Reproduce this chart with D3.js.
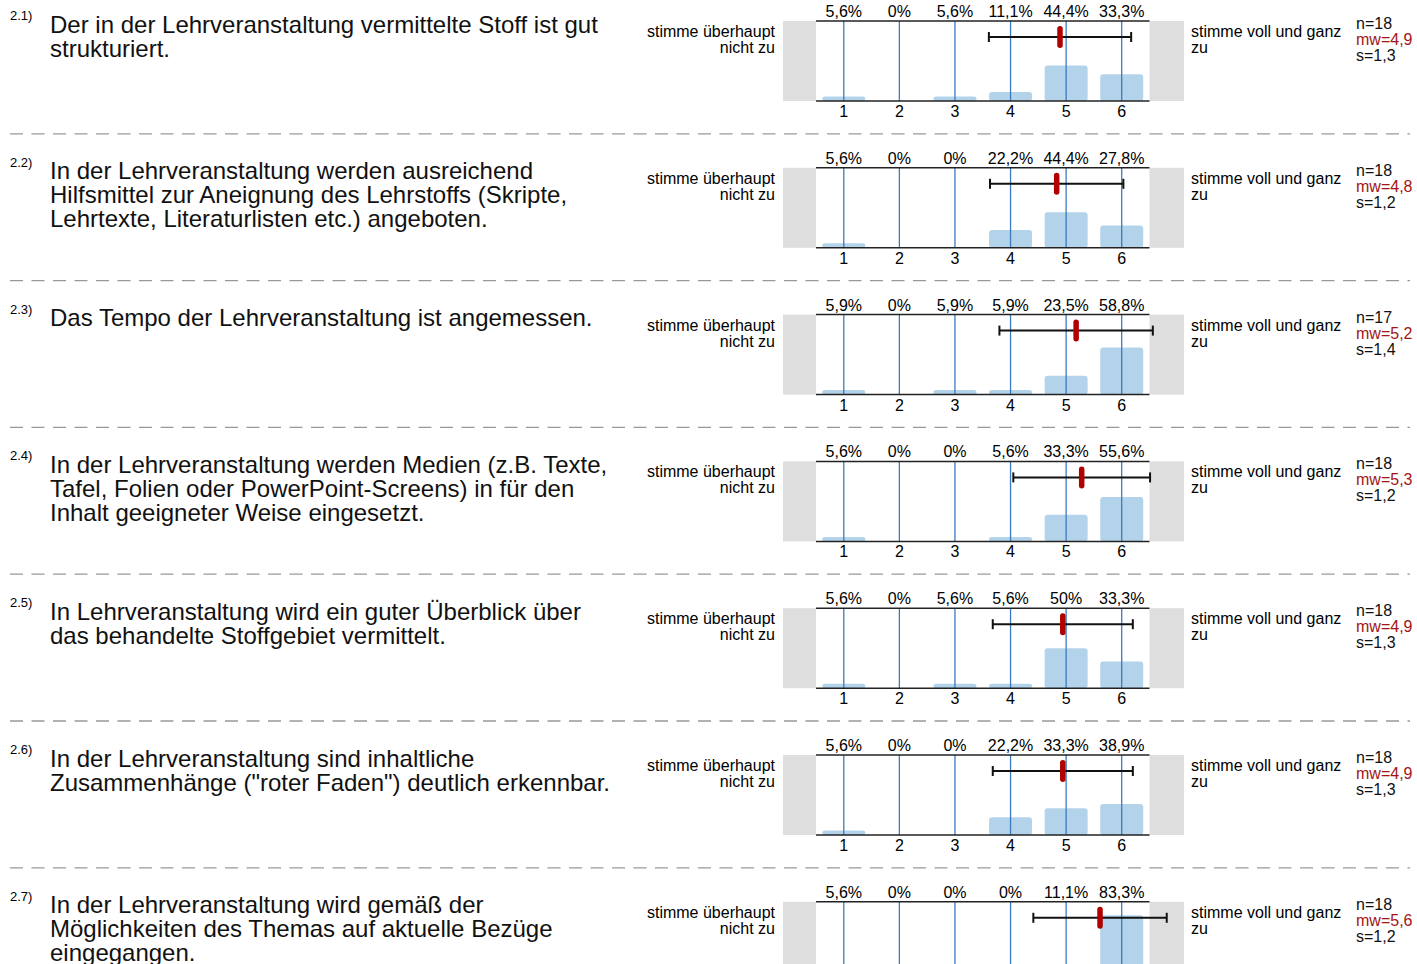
<!DOCTYPE html>
<html>
<head>
<meta charset="utf-8">
<script src="https://cdn.jsdelivr.net/npm/d3@7"></script>
<style>
  body { margin: 0; background: #fff; }
  text { font-family: "Liberation Sans", Arial, sans-serif; }
</style>
</head>
<body>
<svg id="chart" width="1417" height="964"></svg>
<script>
// Question numbers and wrapped question text
const numbers = ['2.1)', '2.2)', '2.3)', '2.4)', '2.5)', '2.6)', '2.7)'];
const questions = [
  ['Der in der Lehrveranstaltung vermittelte Stoff ist gut', 'strukturiert.'],
  ['In der Lehrveranstaltung werden ausreichend', 'Hilfsmittel zur Aneignung des Lehrstoffs (Skripte,', 'Lehrtexte, Literaturlisten etc.) angeboten.'],
  ['Das Tempo der Lehrveranstaltung ist angemessen.'],
  ['In der Lehrveranstaltung werden Medien (z.B. Texte,', 'Tafel, Folien oder PowerPoint-Screens) in für den', 'Inhalt geeigneter Weise eingesetzt.'],
  ['In Lehrveranstaltung wird ein guter Überblick über', 'das behandelte Stoffgebiet vermittelt.'],
  ['In der Lehrveranstaltung sind inhaltliche', 'Zusammenhänge ("roter Faden") deutlich erkennbar.'],
  ['In der Lehrveranstaltung wird gemäß der', 'Möglichkeiten des Themas auf aktuelle Bezüge', 'eingegangen.']
];

// Answer scale 1..6
const categories = [1, 2, 3, 4, 5, 6];

// Percent per answer, one row per question
const percents = [
  [5.6, 0, 5.6, 11.1, 44.4, 33.3],
  [5.6, 0, 0, 22.2, 44.4, 27.8],
  [5.9, 0, 5.9, 5.9, 23.5, 58.8],
  [5.6, 0, 0, 5.6, 33.3, 55.6],
  [5.6, 0, 5.6, 5.6, 50, 33.3],
  [5.6, 0, 0, 22.2, 33.3, 38.9],
  [5.6, 0, 0, 0, 11.1, 83.3]
];

const nValues = [18, 18, 17, 18, 18, 18, 18];
const means = [4.89, 4.83, 5.18, 5.28, 4.94, 4.94, 5.61];
const sds = [1.28, 1.20, 1.38, 1.23, 1.26, 1.26, 1.20];

const leftLabel = ['stimme überhaupt', 'nicht zu'];
const rightLabel = ['stimme voll und ganz', 'zu'];

const svg = d3.select('#chart');
const H = +svg.attr('height');

const rowStep = 146.8;
const firstTop = 21;
const plotH = 80;

const x = d3.scaleLinear().domain([0.5, 6.5]).range([816, 1149.5]);
const barW = 43;
const comma = v => String(v).replace('.', ',');
const fmt1 = v => d3.format('.1f')(v).replace('.', ',');

questions.forEach((lines, i) => {
  const top = firstTop + i * rowStep;
  const bottom = top + plotH;
  const y = d3.scaleLinear().domain([0, 100]).range([bottom, top]);
  const g = svg.append('g');

  // separator above every row except the first
  if (i > 0) {
    g.append('line')
      .attr('x1', 10).attr('x2', 1410)
      .attr('y1', top - 34).attr('y2', top - 34)
      .attr('stroke', '#999')
      .attr('stroke-width', 1.3)
      .attr('stroke-dasharray', '13 8.5');
  }

  // question number and text
  g.append('text')
    .attr('x', 10).attr('y', top - 1)
    .attr('font-size', 13)
    .text(numbers[i]);

  g.append('text')
    .attr('x', 50).attr('y', top + 11.5)
    .attr('font-size', 24)
    .attr('fill', '#111')
    .selectAll('tspan')
    .data(lines)
    .join('tspan')
    .attr('x', 50)
    .attr('dy', (d, j) => j === 0 ? 0 : 24)
    .text(d => d);

  // grey end boxes
  g.append('rect')
    .attr('x', 783).attr('y', top)
    .attr('width', x(0.5) - 783).attr('height', plotH)
    .attr('fill', '#dedede');
  g.append('rect')
    .attr('x', x(6.5)).attr('y', top)
    .attr('width', 1184 - x(6.5)).attr('height', plotH)
    .attr('fill', '#dedede');

  // scale end labels
  g.append('text')
    .attr('y', top + 16)
    .attr('font-size', 16)
    .attr('text-anchor', 'end')
    .selectAll('tspan')
    .data(leftLabel)
    .join('tspan')
    .attr('x', 775)
    .attr('dy', (d, j) => j === 0 ? 0 : 16)
    .text(d => d);

  g.append('text')
    .attr('y', top + 16)
    .attr('font-size', 16)
    .selectAll('tspan')
    .data(rightLabel)
    .join('tspan')
    .attr('x', 1191)
    .attr('dy', (d, j) => j === 0 ? 0 : 16)
    .text(d => d);

  // bars
  g.selectAll('.bar')
    .data(percents[i])
    .join('rect')
    .attr('class', 'bar')
    .attr('x', (d, j) => x(categories[j]) - barW / 2)
    .attr('y', d => y(d))
    .attr('width', barW)
    .attr('height', d => Math.max(0, y(0) - y(d)))
    .attr('rx', 3)
    .attr('fill', '#b3d3eb');

  // vertical category lines
  g.selectAll('.vline')
    .data(categories)
    .join('line')
    .attr('x1', d => x(d)).attr('x2', d => x(d))
    .attr('y1', top).attr('y2', bottom)
    .attr('stroke', '#3a7bc0')
    .attr('stroke-width', 1.3);

  // top and bottom rules
  [top, bottom].forEach(yy => {
    g.append('line')
      .attr('x1', x(0.5)).attr('x2', x(6.5))
      .attr('y1', yy).attr('y2', yy)
      .attr('stroke', '#222')
      .attr('stroke-width', 1.5);
  });

  // percent labels above
  g.selectAll('.pct')
    .data(percents[i])
    .join('text')
    .attr('x', (d, j) => x(categories[j]))
    .attr('y', top - 4)
    .attr('text-anchor', 'middle')
    .attr('font-size', 16)
    .text(d => comma(d) + '%');

  // category labels below (the last row's fall off the page)
  if (bottom + 16 < H) {
    g.selectAll('.cat')
      .data(categories)
      .join('text')
      .attr('x', d => x(d))
      .attr('y', bottom + 16)
      .attr('text-anchor', 'middle')
      .attr('font-size', 16)
      .text(d => d);
  }

  // mean +/- sd
  const ey = top + 16;
  const lo = x(means[i] - sds[i]);
  const hi = x(means[i] + sds[i]);
  g.append('line')
    .attr('x1', lo).attr('x2', hi)
    .attr('y1', ey).attr('y2', ey)
    .attr('stroke', '#111').attr('stroke-width', 2);
  [lo, hi].forEach(xx => {
    g.append('line')
      .attr('x1', xx).attr('x2', xx)
      .attr('y1', ey - 5).attr('y2', ey + 5)
      .attr('stroke', '#111').attr('stroke-width', 2);
  });
  g.append('rect')
    .attr('x', x(means[i]) - 2.75).attr('y', ey - 11)
    .attr('width', 5.5).attr('height', 22)
    .attr('rx', 2.75)
    .attr('fill', '#b00000');

  // stats
  const stats = [
    { t: 'n=' + nValues[i], c: '#111' },
    { t: 'mw=' + fmt1(means[i]), c: '#a31515' },
    { t: 's=' + fmt1(sds[i]), c: '#111' }
  ];
  g.selectAll('.stat')
    .data(stats)
    .join('text')
    .attr('x', 1356)
    .attr('y', (d, j) => top + 8 + j * 16)
    .attr('font-size', 16)
    .attr('fill', d => d.c)
    .text(d => d.t);
});
</script>
</body>
</html>
